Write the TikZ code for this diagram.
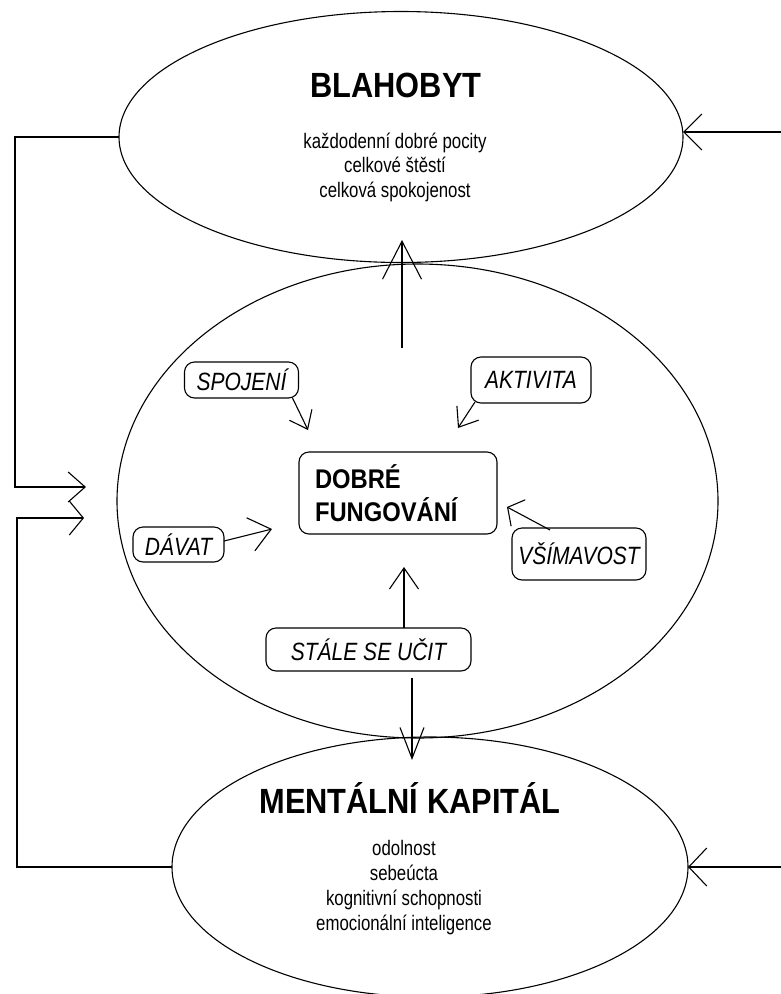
\documentclass[tikz,border=0pt]{standalone}
\usepackage{fontspec}
\setmainfont{Liberation Sans}[FakeStretch=0.88]
\newfontfamily\smallfont{Liberation Sans}[FakeStretch=0.8]
\newfontfamily\labelfont{Liberation Sans}[FakeStretch=0.84]
\usetikzlibrary{arrows.meta,shapes.geometric}
\begin{document}
\begin{tikzpicture}[x=1pt,y=-1pt,
  every node/.style={inner sep=0pt, outer sep=0pt},
  oval/.style={draw, ellipse, line width=1.1pt},
  conn/.style={draw, line width=1.1pt},
  arrowhd/.style 2 args={-{Straight Barb[length=#1pt,width=#2pt]}},
  lbl/.style={draw, line width=1.1pt, rounded corners=10pt, font=\labelfont\fontsize{25}{28}\selectfont\itshape},
  title/.style={font=\fontsize{35}{40}\selectfont\bfseries, anchor=base},
  item/.style={font=\smallfont\fontsize{21}{24}\selectfont, anchor=base},
]
\useasboundingbox (0,0) rectangle (781,994);

% ellipses
\node[oval, minimum width=564pt, minimum height=251pt] (blah) at (401,137) {};
\node[oval, minimum width=601pt, minimum height=474pt] (mid) at (417.5,501) {};
\node[oval, minimum width=516pt, minimum height=260pt] (ment) at (430,867) {};

% texts in ellipses
\node[title] (tBlah) at (396,97) {BLAHOBYT};
\node[item] (b1) at (395,148) {každodenní dobré pocity};
\node[item] (b2) at (395,172.5) {celkové štěstí};
\node[item] (b3) at (395,197) {celková spokojenost};

\node[title] (tMent) at (410,813) {MENTÁLNÍ KAPITÁL};
\node[item] (m1) at (404,855) {odolnost};
\node[item] (m2) at (404,880) {sebeúcta};
\node[item] (m3) at (404,905) {kognitivní schopnosti};
\node[item] (m4) at (404,930) {emocionální inteligence};

% core box
\node[draw, line width=1.1pt, rounded corners=10pt, minimum width=198pt, minimum height=82pt,
      text width=166pt, align=left, font=\fontsize{27}{33}\selectfont\bfseries] (core) at (398,493) {DOBRÉ\\FUNGOVÁNÍ};

% label boxes
\node[lbl, minimum width=114pt, minimum height=36pt] (spoj) at (241.5,380) {SPOJENÍ};
\node[lbl, minimum width=120pt, minimum height=46pt] (akt) at (531,380) {AKTIVITA};
\node[lbl, minimum width=134pt, minimum height=52pt] (vsim) at (579,554) {VŠÍMAVOST};
\node[lbl, minimum width=91pt, minimum height=35pt] (dav) at (178.5,544.5) {DÁVAT};
\node[lbl, minimum width=205pt, minimum height=43pt] (stale) at (368.5,649.5) {STÁLE SE UČIT};

% outer feedback connectors
\coordinate (inA) at (86,487);
\coordinate (inB) at (84,518);
\draw[conn, arrowhd={17}{30}] (blah.west) -- (15,137) -- (15,487) -- (inA);
\draw[conn, arrowhd={14}{34}] (ment.west) -- (17,867) -- (17,518) -- (inB);
\coordinate (rTop) at (781,132);
\draw[conn, arrowhd={18}{36}] (rTop) -- (blah.east |- rTop);
\coordinate (rBot) at (781,867);
\draw[conn, arrowhd={18}{38}] (rBot) -- (ment.east);

% vertical arrows
\coordinate (upS) at (402,348);
\coordinate (upE) at (402,240);
\draw[conn, arrowhd={38}{39}] (upS) -- (upE);
\coordinate (dnS) at (412,678);
\coordinate (dnE) at (412,760);
\draw[conn, arrowhd={31}{24}] (dnS) -- (dnE);
\coordinate (stE) at (404,567);
\draw[conn, arrowhd={21}{29}] (stale.north -| stE) -- (stE);

% label arrows
\coordinate (spE) at (308,430);
\draw[conn, arrowhd={16}{25}] ([xshift=-6pt]spoj.south east) -- (spE);
\coordinate (akE) at (458,428);
\draw[conn, arrowhd={17}{26}] ([xshift=4pt,yshift=1pt]akt.south west) -- (akE);
\coordinate (vsE) at (507,507);
\draw[conn, arrowhd={12}{30}] ([xshift=38pt,yshift=-2pt]vsim.north west) -- (vsE);
\coordinate (dvE) at (272,529);
\draw[conn, arrowhd={21}{34}] ([yshift=3.5pt]dav.east) -- (dvE);
\end{tikzpicture}
\end{document}
